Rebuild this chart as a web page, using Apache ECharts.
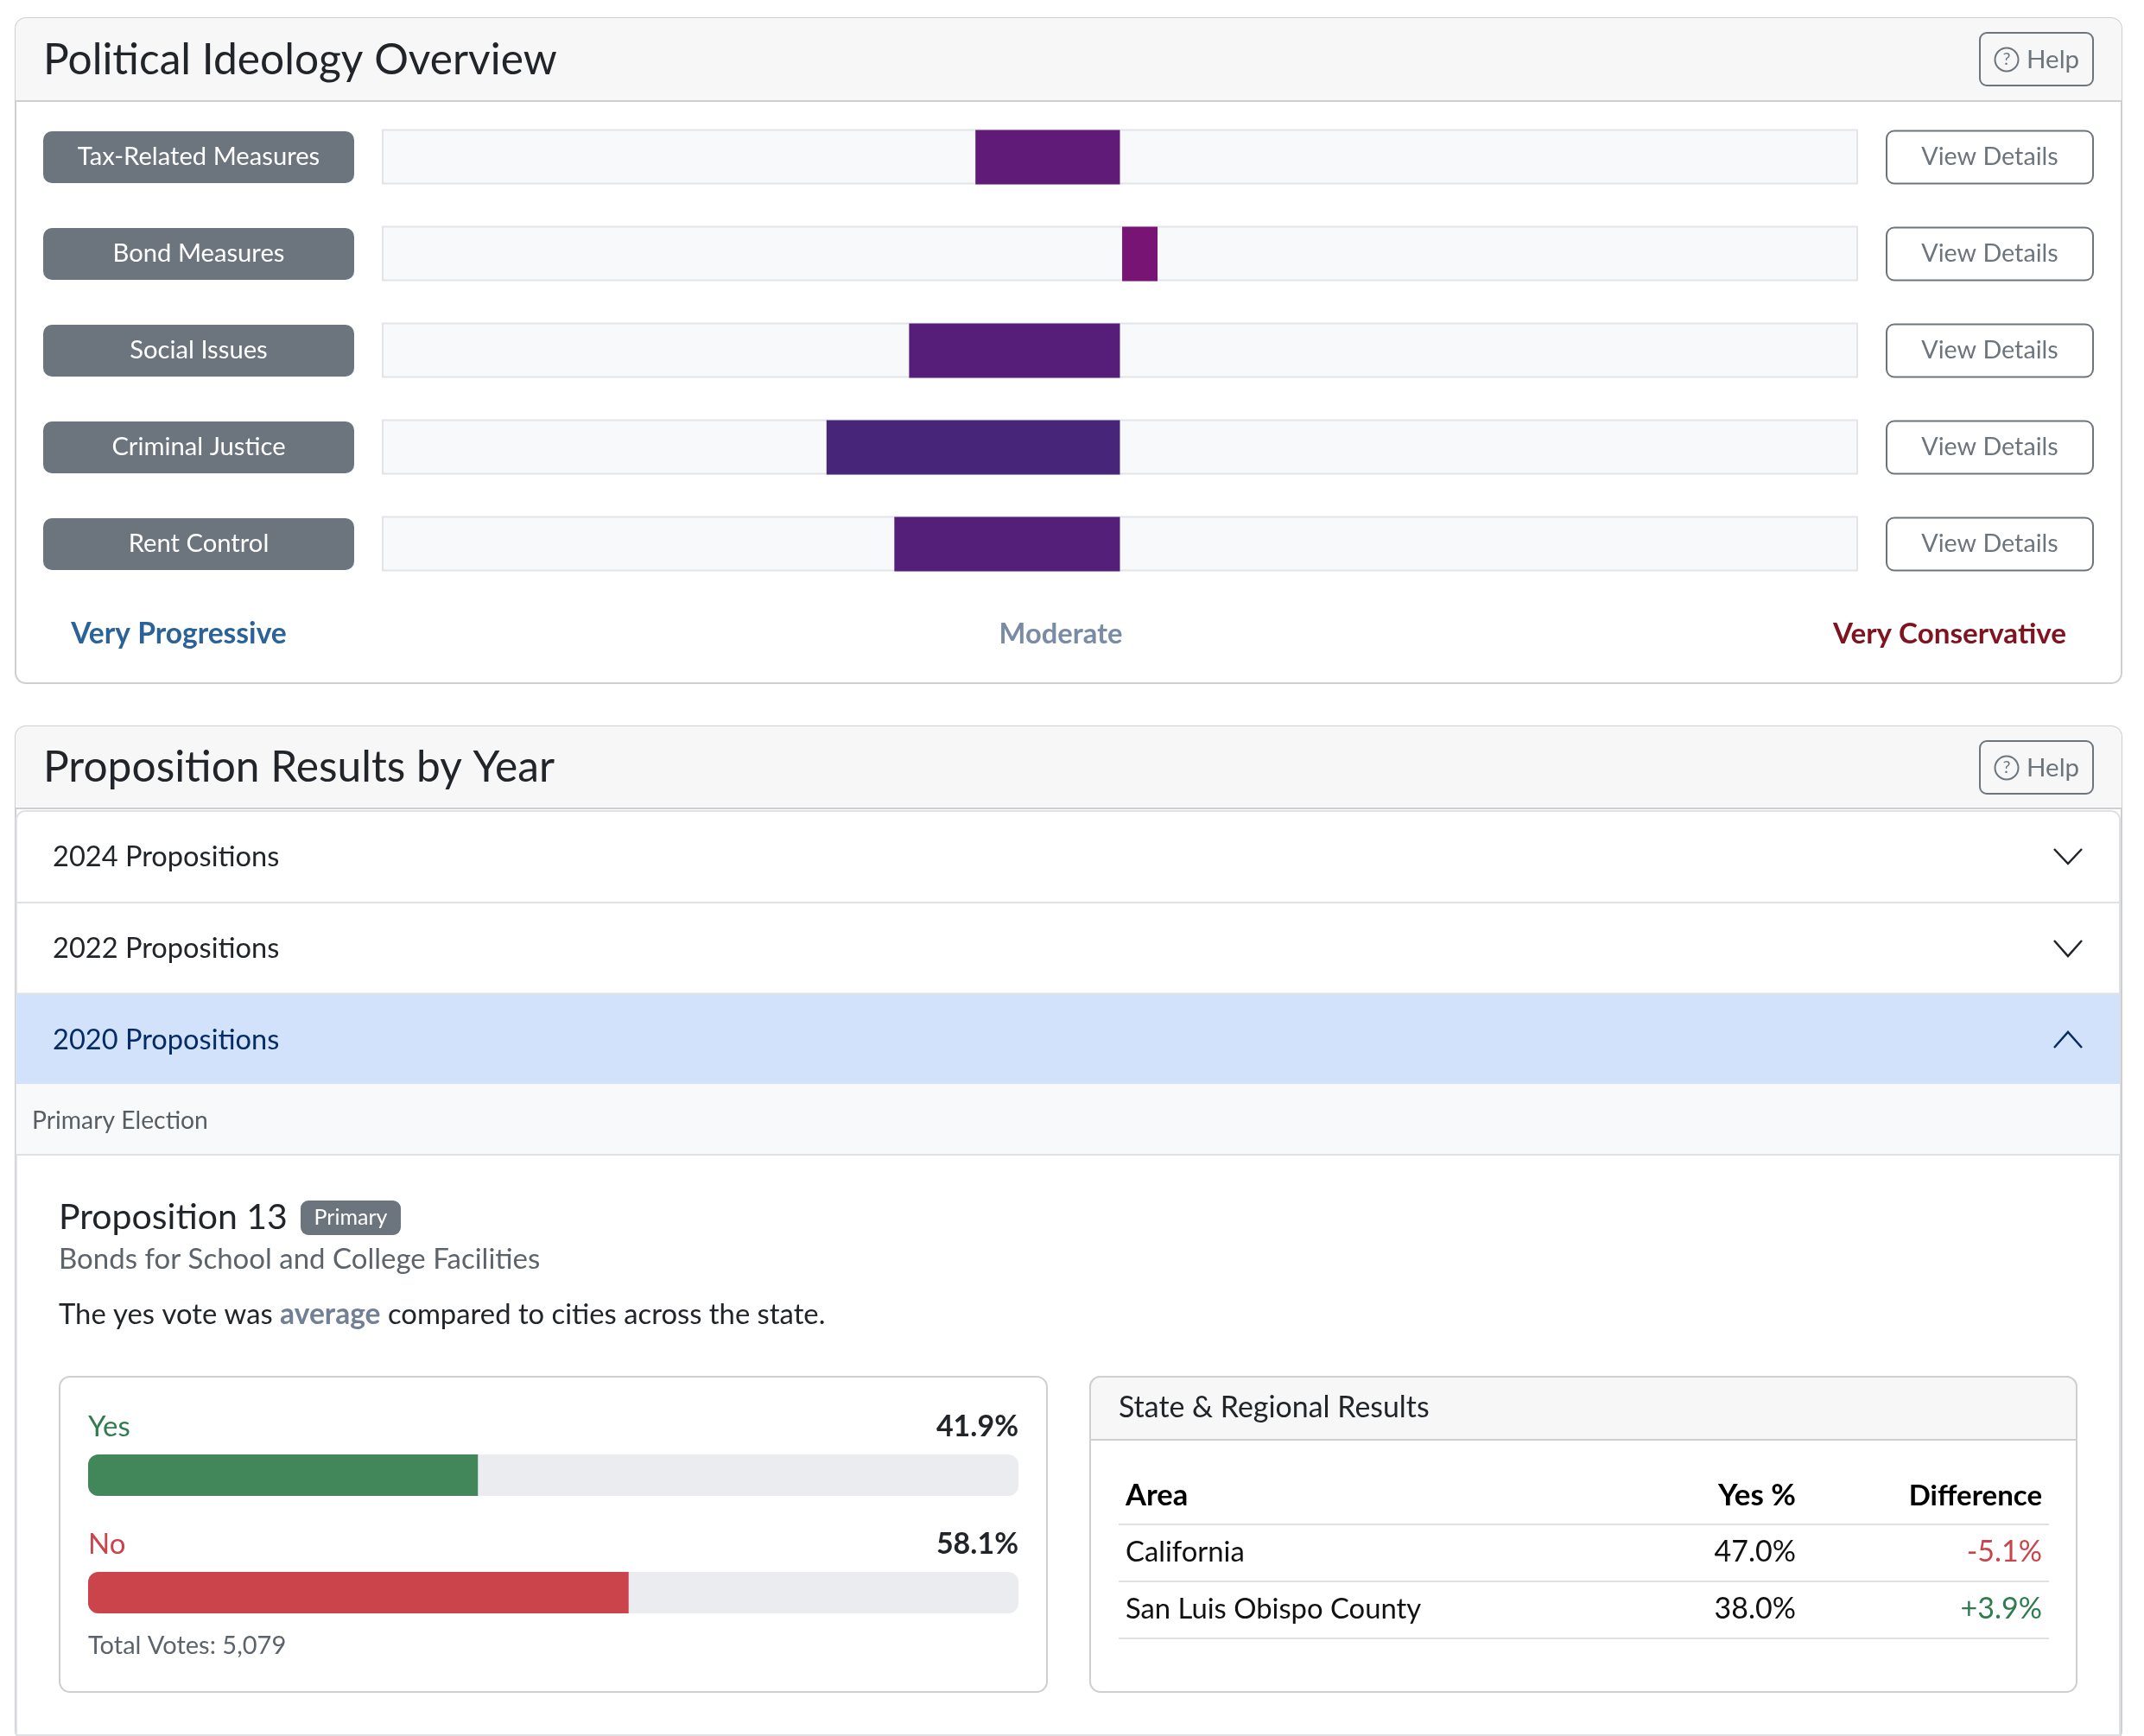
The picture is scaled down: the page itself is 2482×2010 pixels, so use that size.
<!DOCTYPE html>
<html>
<head>
<meta charset="utf-8">
<title>Political Ideology Overview</title>
<script src="https://cdn.jsdelivr.net/npm/echarts@6/dist/echarts.min.js"></script>
<style>
html, body { margin: 0; padding: 0; background: #fff; }
#main { width: 2482px; height: 2010px; }
</style>
</head>
<body>
<div id="main"></div>
<script>
// ideology rows
var ideologyCategories = ['Tax-Related Measures', 'Bond Measures', 'Social Issues', 'Criminal Justice', 'Rent Control'];
var ideologyStart = [0, 0.3, 0, 0, 0];
var ideologyScores = [-19.6, 4.8, -28.6, -39.8, -30.6];
var ideologyColors = ['#601a78', '#771474', '#561e78', '#47267a', '#541f79'];
var scaleLabels = ['Very Progressive', 'Moderate', 'Very Conservative'];
// accordion
var accordionYears = ['2024 Propositions', '2022 Propositions', '2020 Propositions'];
// vote bars
var voteCategories = ['Yes', 'No'];
var voteValues = [41.9, 58.1];
var totalVotes = '5,079';
// regional table
var tableHeader = ['Area', 'Yes %', 'Difference'];
var tableAreas = ['California', 'San Luis Obispo County'];
var tableYes = ['47.0%', '38.0%'];
var tableDiff = ['-5.1%', '+3.9%'];

var FONT = 'Lato, "Noto Sans", sans-serif';
var DARK = '#212529';
var GREY = '#6c757d';
var els = [];

function box(x, y, w, h, fill, stroke, lw, r) {
    els.push({type: 'rect', silent: true, shape: {x: x, y: y, width: w, height: h, r: r || 0},
        style: {fill: fill, stroke: stroke || null, lineWidth: lw || 0}});
}
function line(x1, y1, x2, y2, color, lw) {
    els.push({type: 'line', silent: true, shape: {x1: x1, y1: y1, x2: x2, y2: y2},
        style: {stroke: color, lineWidth: lw || 2}});
}
function txt(x, y, text, size, color, weight, align) {
    els.push({type: 'text', silent: true, style: {x: x, y: y, text: text, fill: color,
        font: (weight || 400) + ' ' + size + 'px ' + FONT,
        textAlign: align || 'left', textVerticalAlign: 'middle'}});
}
function chevron(cx, y1, y2, color) {
    els.push({type: 'polyline', silent: true, shape: {points: [[cx - 16, y1], [cx, y2], [cx + 16, y1]]},
        style: {stroke: color, lineWidth: 2.5, fill: null}});
}
function helpButton(y) {
    box(2292, y, 131, 61, 'rgba(0,0,0,0)', GREY, 2, 8);
    els.push({type: 'circle', silent: true, shape: {cx: 2323, cy: y + 31, r: 13.5},
        style: {fill: null, stroke: GREY, lineWidth: 2}});
    txt(2323, y + 31, '?', 20, GREY, 400, 'center');
    txt(2346, y + 31, 'Help', 29.5, GREY);
}
function cardHeader(top, bottom, title) {
    box(18, top, 2438, bottom - top, '#f7f7f7', null, 0, [12, 12, 0, 0]);
    line(18, bottom, 2456, bottom, '#cfcfcf', 2);
    txt(50, (top + bottom) / 2 + 0.5, title, 49.7, DARK, 400);
}

// card 1
box(18, 21, 2438, 770, '#fff', '#cfcfcf', 2, 12);
cardHeader(21, 117, 'Political Ideology Overview');
helpButton(38);
txt(207, 734, scaleLabels[0], 33.6, '#2b6298', 700, 'center');
txt(1228, 734, scaleLabels[1], 32.7, '#7a8ba6', 700, 'center');
txt(2257, 734, scaleLabels[2], 33.2, '#7f1320', 700, 'center');

// card 2
box(18, 841, 2438, 1175, '#fff', '#cfcfcf', 2, 12);
cardHeader(841, 936, 'Proposition Results by Year');
helpButton(858);
box(19, 939, 2435, 1100, '#fff', '#dee2e6', 2, 10);
line(19, 1045, 2454, 1045, '#dee2e6', 2);
box(19, 1151, 2435, 104, '#d3e2fb');
line(19, 1150.5, 2454, 1150.5, '#dee2e6', 2);
box(19, 1255, 2435, 82, '#f8f9fa');
line(19, 1337, 2454, 1337, '#dee2e6', 2);
line(19, 2009, 2454, 2009, '#dee2e6', 2);
txt(61, 992, accordionYears[0], 32.6, DARK);
txt(61, 1098, accordionYears[1], 32.6, DARK);
txt(61, 1204, accordionYears[2], 32.6, '#052c65');
chevron(2394, 983, 1000, DARK);
chevron(2394, 1089, 1107, DARK);
chevron(2394, 1213, 1195, '#052c65');
txt(37, 1298, 'Primary Election', 28.3, '#565e64');
txt(68, 1410, 'Proposition 13', 41, DARK);
box(348, 1390, 116, 40, GREY, null, 0, 9);
txt(406, 1410, 'Primary', 25, '#fff', 400, 'center');
txt(68, 1458, 'Bonds for School and College Facilities', 33, '#5c636a');
els.push({type: 'text', silent: true, style: {x: 68, y: 1522, textVerticalAlign: 'middle',
    text: '{a|The yes vote was }{b|average}{a| compared to cities across the state.}',
    rich: {
        a: {font: '400 32.8px ' + FONT, fill: DARK},
        b: {font: '700 33.6px ' + FONT, fill: '#718096'}
    }}});

// vote panel
box(69, 1594, 1143, 365, '#fff', '#cfcfcf', 2, 12);
txt(102, 1652, voteCategories[0], 33, '#2f7d4f');
txt(1179, 1652, voteValues[0].toFixed(1) + '%', 34, DARK, 700, 'right');
txt(102, 1788, voteCategories[1], 33, '#cb444c');
txt(1179, 1788, voteValues[1].toFixed(1) + '%', 34, DARK, 700, 'right');
txt(102, 1906, 'Total Votes: ' + totalVotes, 29, '#5c636a');

// regional panel
box(1262, 1594, 1142, 365, '#fff', '#cfcfcf', 2, 12);
box(1262, 1594, 1142, 73, '#f7f7f7', '#cfcfcf', 2, [12, 12, 0, 0]);
txt(1295, 1630, 'State & Regional Results', 33.9, DARK);
txt(1303, 1732, tableHeader[0], 34.5, '#000', 700);
txt(2079, 1732, tableHeader[1], 35, '#000', 700, 'right');
txt(2364, 1732, tableHeader[2], 33, '#000', 700, 'right');
line(1295, 1765, 2372, 1765, '#dee2e6', 2);
tableAreas.forEach(function (area, i) {
    var y = 1797 + i * 66;
    txt(1303, y, area, 32.8, '#111');
    txt(2079, y, tableYes[i], 34, '#111', 400, 'right');
    txt(2364, y, tableDiff[i], 34, tableDiff[i].charAt(0) === '-' ? '#cb444c' : '#2f7d4f', 400, 'right');
    line(1295, 1831 + i * 66, 2372, 1831 + i * 66, '#dee2e6', 2);
});

var chart = echarts.init(document.getElementById('main'), null, {renderer: 'canvas'});
var option = {
    animation: false,
    backgroundColor: '#fff',
    textStyle: {fontFamily: FONT},
    graphic: {elements: els},
    grid: [
        {left: 443, width: 1707, top: 126, height: 560},
        {left: 102, width: 1077, top: 1640, height: 272}
    ],
    xAxis: [
        {gridIndex: 0, type: 'value', min: -100, max: 100, show: false},
        {gridIndex: 1, type: 'value', min: 0, max: 100, show: false}
    ],
    yAxis: [
        {
            gridIndex: 0, type: 'category', inverse: true, data: ideologyCategories,
            axisLine: {show: false}, axisTick: {show: false},
            axisLabel: {
                interval: 0, margin: 33,
                formatter: function (v) { return '{pill|' + v + '}'; },
                rich: {pill: {
                    width: 360, height: 60, lineHeight: 61, align: 'center', color: '#fff',
                    fontSize: 29.2, fontFamily: FONT, backgroundColor: GREY, borderRadius: 10
                }}
            }
        },
        {
            gridIndex: 0, type: 'category', inverse: true, position: 'right',
            data: ideologyCategories.map(function () { return 'View Details'; }),
            axisLine: {show: false}, axisTick: {show: false},
            axisLabel: {
                interval: 0, margin: 35,
                formatter: function (v) { return '{btn|' + v + '}'; },
                rich: {btn: {
                    width: 237, height: 59, lineHeight: 59, align: 'center', color: GREY,
                    fontSize: 28.7, fontFamily: FONT, backgroundColor: '#fff',
                    borderColor: GREY, borderWidth: 2, borderRadius: 8
                }}
            }
        },
        {
            gridIndex: 1, type: 'category', inverse: true, data: voteCategories,
            axisLine: {show: false}, axisTick: {show: false}, axisLabel: {show: false}
        }
    ],
    series: [
        {
            // empty track behind each row
            type: 'bar', xAxisIndex: 0, yAxisIndex: 0, barWidth: 62, barGap: '-100%',
            silent: true, z: 1,
            data: ideologyCategories.map(function () { return 100; }),
            itemStyle: {color: 'rgba(0,0,0,0)'},
            showBackground: true,
            backgroundStyle: {color: '#f8f9fa', borderColor: '#e2e4e9', borderWidth: 2}
        },
        {
            type: 'bar', xAxisIndex: 0, yAxisIndex: 0, stack: 'ideo', barWidth: 63, silent: true, z: 3,
            data: ideologyStart, itemStyle: {color: 'rgba(0,0,0,0)'}
        },
        {
            type: 'bar', xAxisIndex: 0, yAxisIndex: 0, stack: 'ideo', barWidth: 63, silent: true, z: 3,
            data: ideologyScores.map(function (v, i) {
                return {value: v, itemStyle: {color: ideologyColors[i]}};
            })
        },
        {
            type: 'bar', xAxisIndex: 1, yAxisIndex: 2, barWidth: 48, silent: true,
            showBackground: true,
            backgroundStyle: {color: '#ebecf0', borderRadius: 12},
            data: [
                {value: voteValues[0], itemStyle: {color: '#428759', borderRadius: [12, 0, 0, 12]}},
                {value: voteValues[1], itemStyle: {color: '#cb444c', borderRadius: [12, 0, 0, 12]}}
            ]
        }
    ]
};
chart.setOption(option);
</script>
</body>
</html>
